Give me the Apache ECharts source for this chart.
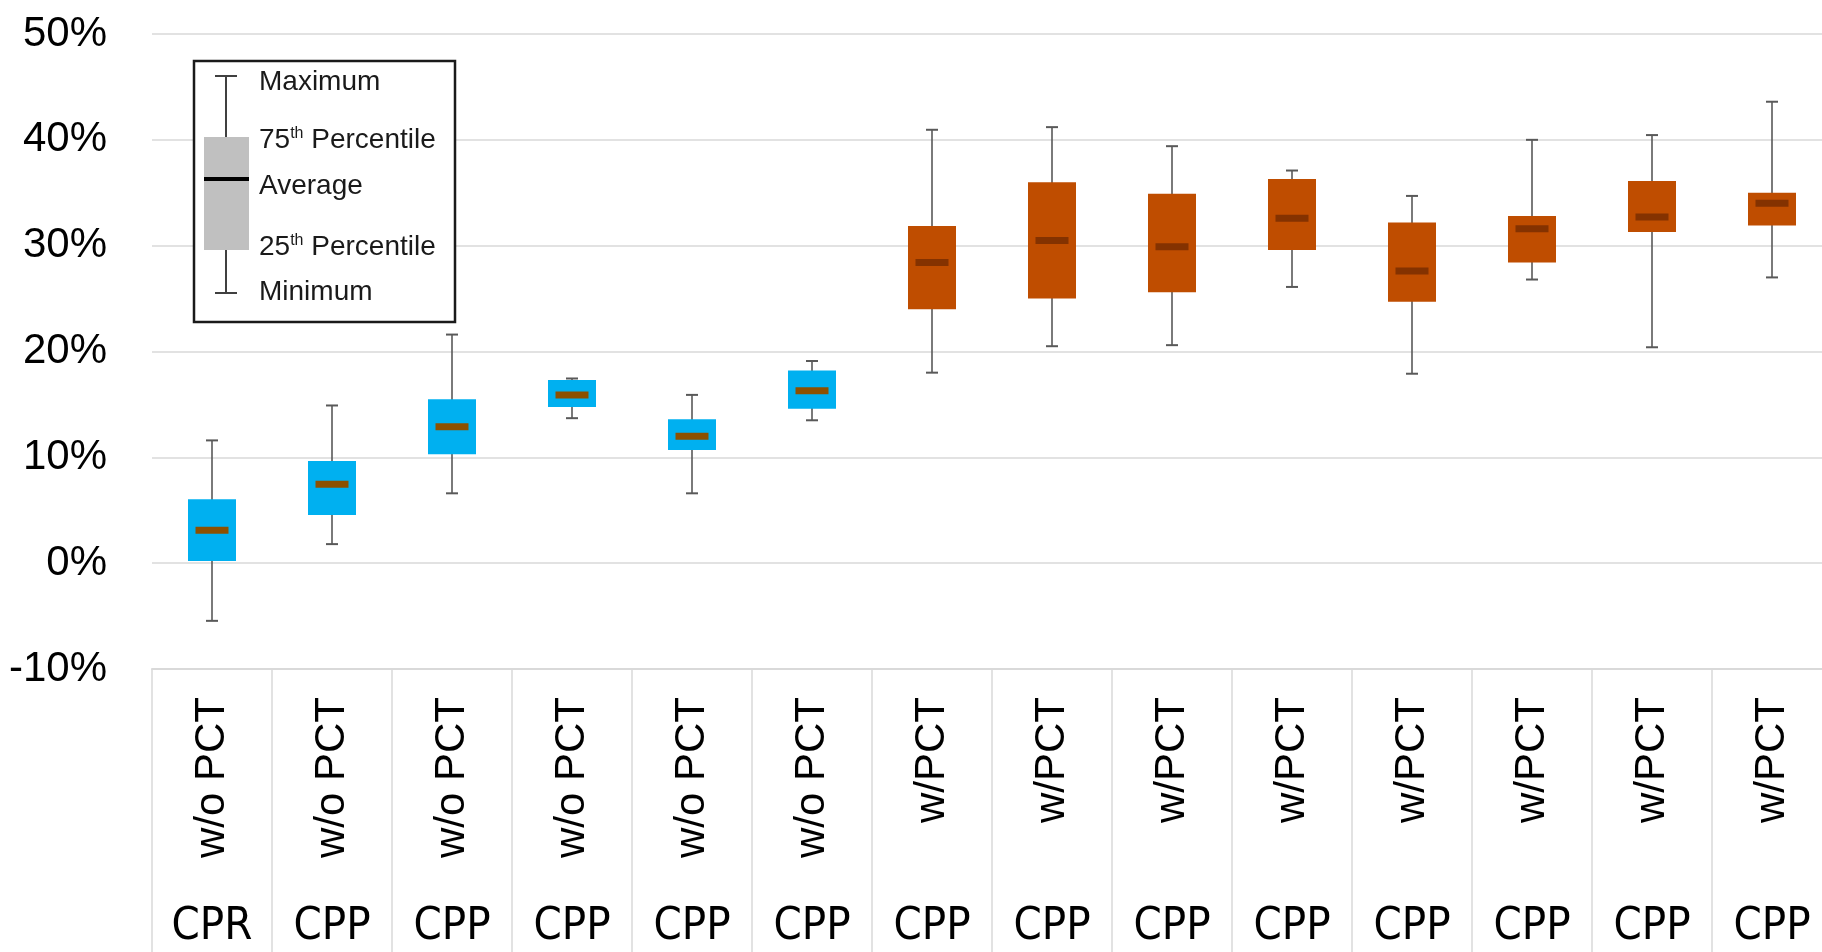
<!DOCTYPE html>
<html>
<head>
<meta charset="utf-8">
<script src="https://cdn.jsdelivr.net/npm/echarts@6.0.0/dist/echarts.min.js"></script>
<style>
  html, body { margin: 0; padding: 0; background: #fff; }
  #chart { width: 1822px; height: 952px; }
</style>
</head>
<body>
<div id="chart"></div>
<script>
// category labels (two rows)
const groupLabels = ['w/o PCT', 'w/o PCT', 'w/o PCT', 'w/o PCT', 'w/o PCT', 'w/o PCT',
  'w/PCT', 'w/PCT', 'w/PCT', 'w/PCT', 'w/PCT', 'w/PCT', 'w/PCT', 'w/PCT']
const typeLabels = ['CPR', 'CPP', 'CPP', 'CPP', 'CPP', 'CPP', 'CPP',
  'CPP', 'CPP', 'CPP', 'CPP', 'CPP', 'CPP', 'CPP']

// box statistics, in percent
const minVals = [-5.45, 1.8, 6.6, 13.7, 6.6, 13.5, 18.0, 20.5, 20.6, 26.1, 17.9, 26.8, 20.4, 27.0]
const q1Vals = [0.2, 4.55, 10.3, 14.75, 10.7, 14.6, 24.0, 25.0, 25.6, 29.6, 24.7, 28.4, 31.3, 31.9]
const meanVals = [3.1, 7.45, 12.9, 15.9, 12.0, 16.3, 28.4, 30.5, 29.9, 32.6, 27.6, 31.6, 32.7, 34.0]
const q3Vals = [6.05, 9.65, 15.5, 17.3, 13.6, 18.2, 31.85, 36.0, 34.9, 36.3, 32.2, 32.8, 36.1, 35.0]
const maxVals = [11.6, 14.9, 21.6, 17.45, 15.9, 19.1, 40.95, 41.2, 39.4, 37.1, 34.7, 40.0, 40.45, 43.6]

// y axis ticks
const yMin = -10
const yMax = 50
const yStep = 10

const COLORS = {
  'w/o PCT': { box: '#00b0f0', mean: '#8c5000' },
  'w/PCT': { box: '#bf4d00', mean: '#843200' }
}
const WHISKER = '#595959'
const GRID = '#d9d9d9'

const boxData = groupLabels.map((g, i) => [i, minVals[i], q1Vals[i], meanVals[i], q3Vals[i], maxVals[i]])

function renderBox(params, api) {
  const idx = api.value(0)
  const pMin = api.coord([idx, api.value(1)])
  const pQ1 = api.coord([idx, api.value(2)])
  const pMean = api.coord([idx, api.value(3)])
  const pQ3 = api.coord([idx, api.value(4)])
  const pMax = api.coord([idx, api.value(5)])
  const band = api.size([1, 0])[0]
  const boxW = band * 0.4
  const meanW = band * 0.275
  const capW = 12
  const cx = pMin[0]
  const c = COLORS[groupLabels[idx]]
  return {
    type: 'group',
    children: [
      { type: 'line', shape: { x1: cx, y1: pMin[1], x2: cx, y2: pMax[1] }, style: { stroke: WHISKER, lineWidth: 1.6 } },
      { type: 'line', shape: { x1: cx - capW / 2, y1: pMin[1], x2: cx + capW / 2, y2: pMin[1] }, style: { stroke: WHISKER, lineWidth: 2 } },
      { type: 'line', shape: { x1: cx - capW / 2, y1: pMax[1], x2: cx + capW / 2, y2: pMax[1] }, style: { stroke: WHISKER, lineWidth: 2 } },
      { type: 'rect', shape: { x: cx - boxW / 2, y: pQ3[1], width: boxW, height: pQ1[1] - pQ3[1] }, style: { fill: c.box } },
      { type: 'rect', shape: { x: cx - meanW / 2, y: pMean[1] - 3.5, width: meanW, height: 7 }, style: { fill: c.mean } }
    ]
  }
}

const legendFont = '28px "Liberation Sans", Arial, sans-serif'
function legendText(txt, y) {
  return {
    type: 'text',
    z: 101,
    x: 259,
    y: y,
    style: {
      text: txt,
      fill: '#1a1a1a',
      font: legendFont,
      textVerticalAlign: 'middle',
      verticalAlign: 'middle',
      rich: {
        sup: { fontSize: 16, fontFamily: 'Liberation Sans', fill: '#1a1a1a', padding: [0, 0, 12, 0] }
      }
    }
  }
}

const option = {
  backgroundColor: '#fff',
  animation: false,
  grid: {
    left: 152,
    right: -10,
    top: 34,
    bottom: 283,
    containLabel: false,
    outerBoundsMode: 'none'
  },
  xAxis: [
    {
      type: 'category',
      data: groupLabels,
      position: 'bottom',
      axisLine: { show: true, onZero: false, lineStyle: { color: GRID, width: 2 } },
      axisTick: { show: true, interval: 0, length: 290, lineStyle: { color: GRID, width: 1.5 } },
      axisLabel: {
        interval: 0,
        rotate: 90,
        margin: 28,
        fontSize: 42,
        fontFamily: '"Liberation Sans", Arial, sans-serif',
        color: '#000'
      },
      splitLine: { show: false }
    },
    {
      type: 'category',
      data: typeLabels,
      position: 'bottom',
      axisLine: { show: false, onZero: false },
      axisTick: { show: false },
      axisLabel: {
        interval: 0,
        margin: 236,
        fontSize: 45,
        fontFamily: '"DejaVu Sans Condensed", "Liberation Sans Narrow", sans-serif',
        color: '#000'
      },
      splitLine: { show: false }
    }
  ],
  yAxis: {
    type: 'value',
    min: yMin,
    max: yMax,
    interval: yStep,
    axisLine: { show: false },
    axisTick: { show: false },
    axisLabel: {
      formatter: '{value}%',
      fontSize: 42,
      margin: 45,
      fontFamily: '"Liberation Sans", Arial, sans-serif',
      color: '#000'
    },
    splitLine: { lineStyle: { color: GRID, width: 1.5 } }
  },
  series: [
    {
      type: 'custom',
      xAxisIndex: 0,
      yAxisIndex: 0,
      renderItem: renderBox,
      encode: { x: 0, y: [1, 2, 3, 4, 5] },
      data: boxData,
      z: 5
    }
  ],
  // legend key drawn by hand
  graphic: [
    { type: 'rect', z: 100, shape: { x: 194, y: 61, width: 261, height: 261 }, style: { fill: '#fff', stroke: '#1a1a1a', lineWidth: 2.5 } },
    { type: 'line', z: 101, shape: { x1: 226, y1: 76, x2: 226, y2: 293 }, style: { stroke: '#404040', lineWidth: 2 } },
    { type: 'line', z: 101, shape: { x1: 215, y1: 76, x2: 237, y2: 76 }, style: { stroke: '#404040', lineWidth: 2 } },
    { type: 'line', z: 101, shape: { x1: 215, y1: 293, x2: 237, y2: 293 }, style: { stroke: '#404040', lineWidth: 2 } },
    { type: 'rect', z: 102, shape: { x: 204, y: 137, width: 45, height: 113 }, style: { fill: '#c0c0c0' } },
    { type: 'line', z: 103, shape: { x1: 204, y1: 179, x2: 249, y2: 179 }, style: { stroke: '#000', lineWidth: 4 } },
    legendText('Maximum', 82),
    legendText('75{sup|th} Percentile', 140),
    legendText('Average', 186),
    legendText('25{sup|th} Percentile', 247),
    legendText('Minimum', 292)
  ]
}

const chart = echarts.init(document.getElementById('chart'))
chart.setOption(option)
</script>
</body>
</html>
